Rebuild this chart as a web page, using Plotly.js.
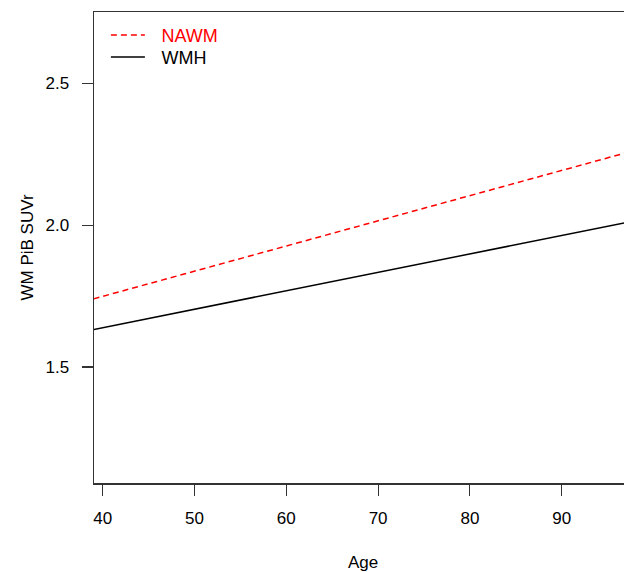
<!DOCTYPE html>
<html>
<head>
<meta charset="utf-8">
<script src="https://cdn.plot.ly/plotly-3.0.1.min.js"></script>
<style>
html, body { margin:0; padding:0; overflow:hidden; background:#fff; width:624px; height:572px; }
#chart { width:640px; height:572px; }
</style>
</head>
<body>
<div id="chart"></div>
<script>
// Fitted regression lines
var age = [39, 97];
var nawm = [1.740, 2.255];
var wmh = [1.632, 2.009];
var xTicks = [40, 50, 60, 70, 80, 90];
var yTicks = [1.5, 2.0, 2.5];
var yTickLabels = ['1.5', '2.0', '2.5'];
var seriesNames = ['NAWM', 'WMH'];

var fontFam = 'Liberation Sans, Arial, sans-serif';
var pad = '\u00a0\u00a0\u200a';

var traces = [
  {
    x: age, y: nawm, type: 'scatter', mode: 'lines',
    name: pad + '<span style="color:#ff0000">' + seriesNames[0] + '</span>',
    legend: 'legend',
    line: {color: '#ff0000', width: 1.5, dash: '6px,4px'}
  },
  {
    x: age, y: wmh, type: 'scatter', mode: 'lines',
    name: pad + seriesNames[1],
    legend: 'legend2',
    line: {color: '#000000', width: 1.5}
  }
];

var legendBase = {
  xanchor: 'left', yanchor: 'top',
  bgcolor: 'rgba(0,0,0,0)', borderwidth: 0,
  itemwidth: 34,
  font: {family: fontFam, size: 18, color: '#000'}
};

var layout = {
  width: 640, height: 572,
  margin: {l: 94, r: 8, t: 12, b: 89},
  paper_bgcolor: '#ffffff', plot_bgcolor: '#ffffff',
  font: {family: fontFam, size: 17, color: '#000'},
  showlegend: true,
  legend: Object.assign({}, legendBase, {x: 0.0221, y: 0.990}),
  legend2: Object.assign({}, legendBase, {x: 0.0221, y: 0.943}),
  xaxis: {
    range: [39.05, 97.66],
    tickmode: 'array', tickvals: xTicks,
    ticks: 'outside', ticklen: 11, tickwidth: 1.2, tickcolor: '#333',
    ticklabelstandoff: 8,
    showline: true, linecolor: '#333', linewidth: 1.5, mirror: true,
    showgrid: false, zeroline: false,
    tickfont: {family: fontFam, size: 17},
    title: {text: 'Age', font: {family: fontFam, size: 17}, standoff: 32}
  },
  yaxis: {
    range: [1.0907, 2.7516],
    tickmode: 'array', tickvals: yTicks, ticktext: yTickLabels,
    ticks: 'outside', ticklen: 11, tickwidth: 1.2, tickcolor: '#333',
    ticklabelstandoff: 9,
    showline: true, linecolor: '#333', linewidth: 1.5,
    showgrid: false, zeroline: false,
    tickfont: {family: fontFam, size: 17},
    title: {text: 'WM PiB SUVr', font: {family: fontFam, size: 17}, standoff: 7}
  }
};

Plotly.newPlot('chart', traces, layout, {displayModeBar: false, staticPlot: true});
</script>
</body>
</html>
